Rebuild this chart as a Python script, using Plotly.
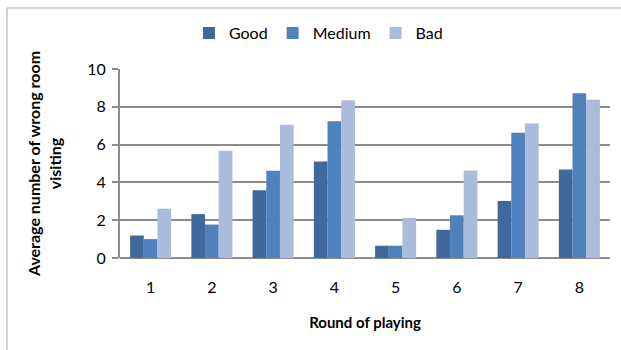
import plotly.graph_objects as go

rounds = ["1", "2", "3", "4", "5", "6", "7", "8"]
good = [1.19, 2.32, 3.58, 5.10, 0.65, 1.49, 3.02, 4.68]
medium = [1.00, 1.77, 4.61, 7.24, 0.65, 2.26, 6.63, 8.72]
bad = [2.61, 5.68, 7.05, 8.35, 2.12, 4.63, 7.12, 8.37]
y_ticks = [0, 2, 4, 6, 8, 10]

series = [
    ("Good", good, "#3F699D"),
    ("Medium", medium, "#4F81BD"),
    ("Bad", bad, "#AABBDB"),
]

fig = go.Figure()
for name, vals, color in series:
    fig.add_trace(go.Bar(
        x=rounds, y=vals, name=name,
        marker=dict(color=color, line=dict(width=0)),
    ))

grid = "#8C8C8C"
fig.update_layout(
    width=621, height=350,
    margin=dict(l=120, r=11, t=69, b=92),
    paper_bgcolor="white", plot_bgcolor="white",
    barmode="group", bargap=0.33, bargroupgap=0,
    font=dict(family="Lato, 'Open Sans', sans-serif", size=15, color="#000000"),
    legend=dict(
        orientation="h", x=0.405, xanchor="center", y=1.19, yanchor="middle",
        font=dict(size=16), itemwidth=30, traceorder="normal",
        bgcolor="rgba(0,0,0,0)",
    ),
    xaxis=dict(
        type="category", showgrid=False, showline=False, ticks="",
        tickfont=dict(size=16), ticklabelstandoff=18,
        title=dict(text="<b>Round of playing</b>", font=dict(size=15), standoff=22),
    ),
    yaxis=dict(
        range=[0, 10], tickvals=y_ticks, showgrid=True, gridcolor=grid, gridwidth=2,
        showline=True, linecolor=grid, linewidth=2, ticks="outside", ticklen=6,
        tickcolor=grid, tickwidth=2, tickfont=dict(size=16), ticklabelstandoff=3,
        zeroline=True, zerolinecolor=grid, zerolinewidth=2,
        title=dict(text="<b>Average number of wrong room<br>visiting</b>",
                   font=dict(size=16), standoff=22),
    ),
    showlegend=True,
)

# outer chart frame
fig.add_shape(type="rect", xref="paper", yref="paper",
              x0=-0.2306, x1=1.2, y0=-0.8, y1=1.3228,
              line=dict(color="#A6A6A6", width=1), layer="below")

fig.write_html("out.html")
